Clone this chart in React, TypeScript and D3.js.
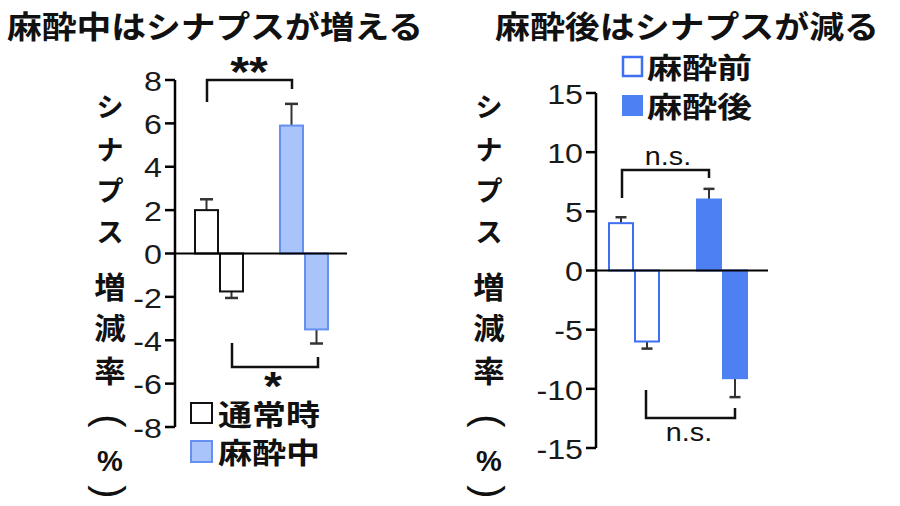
import React from "react";
import * as d3 from "d3";

// ---------- data ----------
const leftGroups = ["通常時", "麻酔中"];
const leftUp = [2.0, 5.9];
const leftUpErr = [0.5, 1.0];
const leftDown = [-1.75, -3.5];
const leftDownErr = [0.3, 0.65];
const leftTicks = [8, 6, 4, 2, 0, -2, -4, -6, -8];

const rightGroups = ["麻酔前", "麻酔後"];
const rightUp = [4.0, 6.0];
const rightUpErr = [0.5, 0.9];
const rightDown = [-6.0, -9.1];
const rightDownErr = [0.6, 1.6];
const rightTicks = [15, 10, 5, 0, -5, -10, -15];

const yLabelChars = ["シ", "ナ", "プ", "ス", "増", "減", "率", "(", "%", ")"];
const yLabelPos = [105, 148, 189, 230, 285, 326, 369, 421, 461, 492];

const JP = "'Noto Sans CJK JP', 'Noto Sans', sans-serif";
const AR = "'Liberation Sans', Arial, sans-serif";
const SX = 1.15;

function T(props: {
  x: number; y: number; text: string; size: number; anchor?: string;
  family?: string; weight?: string | number; fill?: string; len?: number; sx?: number; rot?: number;
}) {
  const { x, y, text, size, anchor = "start", family = JP, weight = "bold", fill = "#111", len, sx = SX, rot = 0 } = props;
  if (len) {
    return (
      <text x={x} y={y} fontSize={size} fontFamily={family} fontWeight={weight} fill={fill}
        textAnchor={anchor} textLength={len} lengthAdjust="spacingAndGlyphs" dominantBaseline="central">
        {text}
      </text>
    );
  }
  return (
    <text transform={`translate(${x},${y}) rotate(${rot}) scale(${sx},1)`} fontSize={size} fontFamily={family}
      fontWeight={weight} fill={fill} textAnchor={anchor} dominantBaseline="central">
      {text}
    </text>
  );
}

function LabelChar({ ch, x, y }: { ch: string; x: number; y: number }) {
  if (ch === "(" || ch === ")") {
    return <T x={x} y={y} text={ch} size={40} anchor="middle" family={AR} weight="normal" sx={1} rot={90} />;
  }
  if (ch === "%") {
    return <T x={x} y={y} text={ch} size={29} anchor="middle" family={AR} weight="bold" sx={1} />;
  }
  const kanji = /[\u4e00-\u9fff]/.test(ch);
  return <T x={x} y={y} text={ch} size={kanji ? 30 : 27} anchor="middle" sx={kanji ? 1.05 : 1} />;
}

type PanelCfg = {
  groups: string[]; up: number[]; upErr: number[]; down: number[]; downErr: number[];
  ticks: number[]; domain: [number, number]; yRange: [number, number];
  axisX: number; zeroEnd: number; xRange: [number, number]; pad: number;
  labelX: number; fills: { fill: string; stroke: string }[]; capW: number;
};

function Panel({ c }: { c: PanelCfg }) {
  const y = d3.scaleLinear().domain(c.domain).range(c.yRange);
  const gx = d3.scaleBand<string>().domain(c.groups).range(c.xRange).paddingInner(c.pad).paddingOuter(0);
  const ix = d3.scaleBand<string>().domain(["up", "down"]).range([0, gx.bandwidth()]);
  const bw = ix.bandwidth();
  const els: React.ReactNode[] = [];
  c.groups.forEach((g, gi) => {
    const st = c.fills[gi];
    const vals = [
      { k: "up", v: c.up[gi], e: c.upErr[gi] },
      { k: "down", v: c.down[gi], e: c.downErr[gi] },
    ];
    vals.forEach(({ k, v, e }) => {
      const x0 = (gx(g) as number) + (ix(k) as number);
      const yv = y(v), y0 = y(0);
      const ye = y(v >= 0 ? v + e : v - e);
      const cx = x0 + bw / 2;
      els.push(
        <g key={g + k}>
          <line x1={cx} x2={cx} y1={yv} y2={ye} stroke="#333" strokeWidth={2} />
          <line x1={cx - c.capW / 2} x2={cx + c.capW / 2} y1={ye} y2={ye} stroke="#333" strokeWidth={2.5} />
          <rect x={x0 + 1} y={Math.min(yv, y0)} width={bw - 2} height={Math.abs(yv - y0)}
            fill={st.fill} stroke={st.stroke} strokeWidth={2} />
        </g>
      );
    });
  });
  return (
    <g>
      {els}
      <line x1={c.axisX} x2={c.zeroEnd} y1={y(0)} y2={y(0)} stroke="#000" strokeWidth={2} />
      <line x1={c.axisX} x2={c.axisX} y1={y(c.domain[1])} y2={y(c.domain[0])} stroke="#000" strokeWidth={2.5} />
      {c.ticks.map((t) => (
        <g key={t}>
          <line x1={c.axisX - 10} x2={c.axisX} y1={y(t)} y2={y(t)} stroke="#000" strokeWidth={2.5} />
          <T x={c.axisX - 13} y={y(t) + 1} text={String(t)} size={28} anchor="end" family={AR} weight="normal" fill="#1a1a1a" />
        </g>
      ))}
      {yLabelChars.map((ch, i) => (
        <LabelChar key={i} ch={ch} x={c.labelX} y={yLabelPos[i]} />
      ))}
    </g>
  );
}

export default function App() {
  const left: PanelCfg = {
    groups: leftGroups, up: leftUp, upErr: leftUpErr, down: leftDown, downErr: leftDownErr,
    ticks: leftTicks, domain: [-8, 8], yRange: [427, 80], axisX: 175, zeroEnd: 347,
    xRange: [194, 329], pad: 35 / 85, labelX: 110, capW: 13,
    fills: [{ fill: "#ffffff", stroke: "#111" }, { fill: "#a9c4fb", stroke: "#6590f0" }],
  };
  const right: PanelCfg = {
    groups: rightGroups, up: rightUp, upErr: rightUpErr, down: rightDown, downErr: rightDownErr,
    ticks: rightTicks, domain: [-15, 15], yRange: [448, 93], axisX: 596, zeroEnd: 768,
    xRange: [608, 748], pad: 36 / 88, labelX: 489, capW: 11,
    fills: [{ fill: "#ffffff", stroke: "#3d6ff0" }, { fill: "#4d80f3", stroke: "#4d80f3" }],
  };
  const br = { stroke: "#111", strokeWidth: 2.5, fill: "none" };
  return (
    <svg width={900} height={506} style={{ position: "absolute", left: 0, top: 0, background: "#fff" }}>
      <rect width={900} height={506} fill="#fff" />
      <T x={7} y={24} text="麻酔中はシナプスが増える" size={31} len={416} />
      <T x={495} y={24} text="麻酔後はシナプスが減る" size={31} len={384} />
      <Panel c={left} />
      <Panel c={right} />

      {/* left brackets */}
      <path d="M207,102 V80 H292 V89" {...br} />
      <T x={249} y={72} text="**" size={42} anchor="middle" family={AR} weight="bold" />
      <path d="M232,343 V367 H318 V357" {...br} />
      <T x={273} y={386} text="*" size={40} anchor="middle" family={AR} weight="bold" />

      {/* right brackets */}
      <path d="M622,198 V170 H709 V178" {...br} />
      <T x={668} y={157} text="n.s." size={25} anchor="middle" family={AR} weight="normal" />
      <path d="M646,390 V418 H735 V408" {...br} />
      <T x={689} y={433} text="n.s." size={25} anchor="middle" family={AR} weight="normal" />

      {/* left legend */}
      <rect x={191} y={403} width={21} height={20} fill="#fff" stroke="#111" strokeWidth={2} />
      <T x={218} y={413} text="通常時" size={29} len={102} />
      <rect x={191} y={441} width={21} height={21} fill="#a9c4fb" stroke="#6590f0" strokeWidth={2} />
      <T x={218} y={451} text="麻酔中" size={29} len={102} />

      {/* right legend */}
      <rect x={623} y={57} width={19} height={19} fill="#fff" stroke="#3d6ff0" strokeWidth={2.5} />
      <T x={647} y={66} text="麻酔前" size={29} len={105} />
      <rect x={622} y={95} width={21} height={21} fill="#4d80f3" />
      <T x={647} y={105} text="麻酔後" size={29} len={105} />
    </svg>
  );
}
